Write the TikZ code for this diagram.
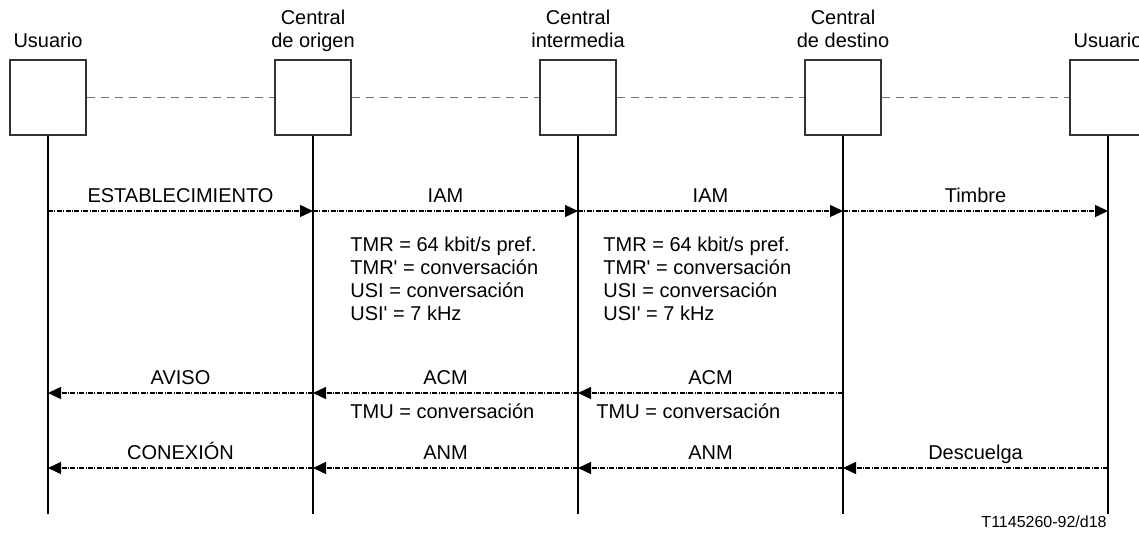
\documentclass[tikz,border=0pt]{standalone}
\usepackage{fontspec}
\setmainfont{Liberation Sans}
\usetikzlibrary{positioning,arrows.meta}

\tikzset{
    ent/.style={draw=black!80, line width=0.6pt, fill=white, inner sep=0pt,
        minimum width=38pt, minimum height=37.5pt},
    head/.style={align=center, inner sep=0pt, text depth=2pt,
        font=\fontsize{10}{11.5}\selectfont},
    life/.style={line width=1.2pt},
    link/.style={black!55, line width=0.5pt, dash pattern=on 4pt off 3pt},
    msg/.style={line width=0.7pt, dash pattern=on 2.5pt off 0.7pt on 0.5pt off 0.7pt,
        -{Triangle[length=6.5pt,width=6pt]}},
    msglbl/.style={midway, above=4pt, inner sep=0pt, text depth=0pt,
        font=\fontsize{10}{12}\selectfont},
    note/.style={align=left, anchor=north west, inner sep=0pt,
        font=\fontsize{10}{11.5}\selectfont},
}

\begin{document}
\begin{tikzpicture}[x=0.5pt,y=-0.5pt]
    \useasboundingbox (0,0) rectangle (1139,535);

    % Define rows (one pixel of the picture = one unit)
    \def\ybox{97.5} % centre of the boxes
    \def\yend{514}  % end of the lifelines

    % Boxes and lifelines
    \foreach \n/\x in {u1/48, co/313, ci/578, cd/843, u2/1108} {
        \node[ent] (\n) at (\x,\ybox) {};
        \coordinate (\n-end) at (\x,\yend);
    }

    % Dashed links between the boxes
    \foreach \a/\b in {u1/co, co/ci, ci/cd, cd/u2} {
        \draw[link] (\a.east) -- (\b.west);
    }

    \foreach \n in {u1, co, ci, cd, u2} {
        \draw[life] (\n.south) -- (\n-end);
    }

    % Names above the boxes
    \node[head, above=3.5pt of u1] (h1) {Usuario};
    \node[head, above=3.5pt of co] (h2) {Central\\de origen};
    \node[head, above=3.5pt of ci] (h3) {Central\\intermedia};
    \node[head, above=3.5pt of cd] (h4) {Central\\de destino};
    \node[head, above=3.5pt of u2] (h5) {Usuario};

    % Message rows
    \coordinate (r1) at (0,211);
    \coordinate (r2) at (0,393);
    \coordinate (r3) at (0,468);

    \foreach \a/\b/\r/\t in {u1/co/r1/ESTABLECIMIENTO, co/ci/r1/IAM, ci/cd/r1/IAM,
        cd/u2/r1/Timbre, cd/ci/r2/ACM, ci/co/r2/ACM, co/u1/r2/AVISO,
        u2/cd/r3/Descuelga, cd/ci/r3/ANM, ci/co/r3/ANM, co/u1/r3/CONEXIÓN} {
        \draw[msg] (\a |- \r) -- node[msglbl] {\t} (\b |- \r);
    }

    % Parameters carried by the messages
    \node[note] (p1) at (350,237) {TMR = 64 kbit/s pref.\\TMR\textquotesingle{} = conversación\\USI = conversación\\USI\textquotesingle{} = 7 kHz};
    \node[note] (p2) at (603,237) {TMR = 64 kbit/s pref.\\TMR\textquotesingle{} = conversación\\USI = conversación\\USI\textquotesingle{} = 7 kHz};

    \node[note] (q1) at (350,403) {TMU = conversación};
    \node[note] (q2) at (596,403) {TMU = conversación};

    % Figure reference
    \node[anchor=base east, inner sep=0pt, font=\fontsize{8}{10}\selectfont] (ref) at (1107,527) {T1145260-92/d18};
\end{tikzpicture}
\end{document}
